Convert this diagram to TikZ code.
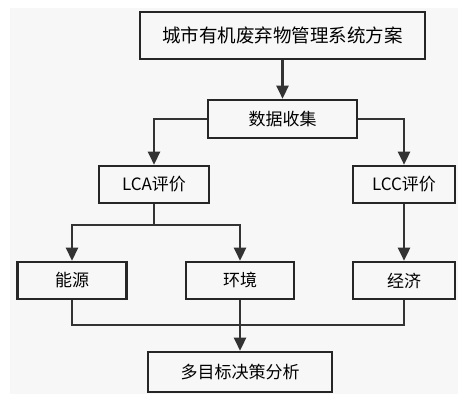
\documentclass[tikz,border=0pt]{standalone}
\usepackage{fontspec}
\newfontfamily\cjk{Noto Sans CJK SC}
\usetikzlibrary{arrows.meta}
\definecolor{bg}{HTML}{F7F7F7}
\begin{document}
\begin{tikzpicture}[x=1pt,y=-1pt,
  box/.style={draw=black!85,line width=2.6pt,fill=bg,rectangle,inner sep=0pt,font=\cjk\fontsize{17}{20}\selectfont},
  link/.style={draw=black!80,line width=2.6pt},
  arr/.style={link,-{Triangle[length=13pt,width=12pt]}}]
\useasboundingbox (0,0) rectangle (458,394);
\fill[white] (0,0) rectangle (458,394);
\fill[bg] (10,8) rectangle (458,394);
\node[box,minimum width=285pt,minimum height=47pt,font=\cjk\fontsize{18.5}{22}\selectfont] (top) at (282.5,35.5) {城市有机废弃物管理系统方案};
\node[box,minimum width=149pt,minimum height=38pt] (data) at (282.5,119) {数据收集};
\node[box,minimum width=110pt,minimum height=37pt] (lca) at (154,184.5) {LCA评价};
\node[box,minimum width=102pt,minimum height=37pt] (lcc) at (404,184.5) {LCC评价};
\node[box,minimum width=109pt,minimum height=37pt] (energy) at (72,280.5) {能源};
\node[box,minimum width=108pt,minimum height=37pt] (env) at (240,280.5) {环境};
\node[box,minimum width=102pt,minimum height=37pt] (econ) at (404,280.5) {经济};
\node[box,minimum width=184pt,minimum height=40pt] (multi) at (240,372) {多目标决策分析};
\coordinate (jL) at (154,225);
\coordinate (jB1) at (72,325);
\coordinate (jB2) at (404,325);
\draw[arr] (top) -- (data);
\draw[arr] (data.west) -| (lca.north);
\draw[arr] (data.east) -| (lcc.north);
\draw[link] (lca.south) -- (jL);
\draw[arr] (jL) -| (energy.north);
\draw[arr] (jL) -| (env.north);
\draw[arr] (lcc) -- (econ);
\draw[link] (energy.south) -- (jB1) -- (jB2) -- (econ.south);
\draw[arr] (env.south) -- (multi.north);
\end{tikzpicture}
\end{document}
